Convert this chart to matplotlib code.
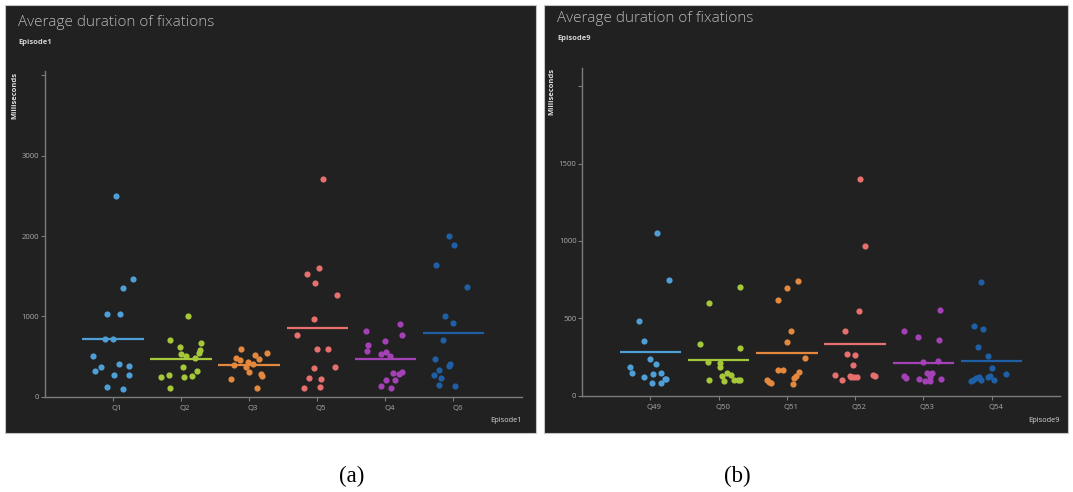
import matplotlib
matplotlib.use('Agg')
import matplotlib.pyplot as plt
from matplotlib.patches import Rectangle
from matplotlib.transforms import ScaledTranslation

plt.rcParams['font.family'] = ['Open Sans', 'DejaVu Sans']

W, H = 1073, 492

# per-question colours, same order in both episodes
q_colors = ['#4d9fd6', '#a5c83a', '#e3883d', '#e7706f', '#a541b6', '#1f5fa5']

# ---- Episode 1 ----
ep1_questions = ['Q1', 'Q2', 'Q3', 'Q5', 'Q4', 'Q6']
ep1_ms = [
    [2500, 1469, 1357, 1029, 1025, 718, 722, 510, 373, 324, 402, 382, 270, 266, 120, 91],
    [1000, 701, 614, 668, 527, 510, 581, 539, 481, 365, 315, 249, 274, 249, 253, 112],
    [594, 544, 482, 453, 523, 469, 391, 428, 403, 374, 311, 286, 253, 224, 105],
    [2710, 1598, 1531, 1411, 1270, 971, 772, 589, 598, 357, 369, 232, 224, 112, 124],
    [822, 900, 768, 643, 689, 564, 527, 560, 506, 299, 311, 282, 203, 207, 137, 108],
    [2005, 1893, 1635, 1369, 1008, 913, 705, 469, 332, 402, 382, 270, 237, 145, 137],
]
ep1_jitter = [
    [0.05, 0.29, 0.15, -0.08, 0.11, -0.11, 0.0, -0.29, -0.17, -0.26, 0.09, 0.24, 0.02, 0.24, -0.09, 0.15],
    [0.11, -0.16, -0.01, 0.29, 0.0, 0.07, 0.28, 0.27, 0.20, 0.03, 0.23, -0.30, -0.18, 0.05, 0.16, -0.16],
    [-0.12, 0.27, -0.19, -0.13, 0.08, 0.15, -0.22, -0.01, 0.06, -0.05, 0.0, 0.17, 0.19, -0.27, 0.12],
    [0.08, 0.02, -0.15, -0.03, 0.29, -0.05, -0.29, 0.0, 0.16, -0.04, 0.26, -0.12, 0.05, -0.19, 0.04],
    [-0.29, 0.22, 0.24, -0.26, -0.01, -0.27, -0.07, 0.01, 0.07, 0.12, 0.24, 0.20, 0.01, 0.14, -0.07, 0.09],
    [-0.06, 0.01, -0.25, 0.20, -0.13, 0.0, -0.15, -0.27, -0.21, -0.05, -0.07, -0.28, -0.18, -0.21, 0.02],
]
ep1_yticks = [0, 1000, 2000, 3000, 4000]
ep1_yticklabels = ['0', '1000', '2000', '3000', '']

# ---- Episode 9 ----
ep9_questions = ['Q49', 'Q50', 'Q51', 'Q52', 'Q53', 'Q54']
ep9_ms = [
    [1054, 750, 485, 351, 239, 205, 183, 147, 123, 142, 144, 80, 80, 106, 110],
    [705, 597, 336, 306, 216, 213, 188, 147, 131, 125, 99, 95, 103, 103, 103],
    [744, 694, 616, 416, 349, 246, 164, 166, 153, 127, 116, 101, 80, 88, 73],
    [1403, 965, 545, 420, 267, 261, 200, 134, 103, 121, 118, 123, 136, 125, 128],
    [554, 418, 381, 362, 218, 222, 127, 116, 108, 144, 144, 119, 95, 97, 108],
    [735, 453, 429, 317, 254, 181, 138, 101, 112, 123, 101, 123, 129, 101, 93],
]
ep9_jitter = [
    [0.10, 0.28, -0.17, -0.09, 0.0, 0.08, -0.29, -0.27, -0.09, 0.04, 0.15, 0.02, 0.15, 0.23, 0.22],
    [0.32, -0.14, -0.27, 0.32, -0.16, 0.02, 0.02, 0.13, 0.18, 0.05, -0.14, 0.08, 0.23, 0.29, 0.32],
    [0.17, 0.0, -0.13, 0.06, 0.0, 0.27, -0.13, -0.05, 0.18, 0.14, 0.11, -0.29, -0.23, -0.26, 0.09],
    [0.07, 0.15, 0.05, -0.15, -0.12, 0.0, -0.03, -0.29, -0.19, -0.06, -0.02, 0.03, 0.26, 0.29, -0.08],
    [0.25, -0.29, -0.08, 0.23, -0.01, 0.21, -0.28, -0.26, -0.07, 0.05, 0.12, 0.09, 0.02, 0.09, 0.26],
    [-0.15, -0.26, -0.13, -0.20, -0.05, 0.0, 0.21, -0.28, -0.23, -0.19, -0.15, -0.06, -0.03, 0.04, -0.31],
]
ep9_yticks = [0, 500, 1000, 1500, 2000]
ep9_yticklabels = ['0', '500', '1000', '1500', '']

BG = '#212121'
AXIS = '#7c7c7c'
TICKTXT = '#a8a8a8'


def fx(px):
    return px / W


def fy(py):
    return 1 - py / H


def draw_panel(fig, box, plot, questions, values, jitter, ymax, yticks, yticklabels,
               episode, title_y, sub_y, ylab_x, ylab_y):
    x0, y0, x1, y1 = box
    fig.patches.append(Rectangle((fx(x0), fy(y1)), fx(x1 - x0), (y1 - y0) / H,
                                 transform=fig.transFigure, facecolor=BG,
                                 edgecolor='#c4c4c4', linewidth=0.8, zorder=-5))
    px0, py0, px1, py1 = plot
    ax = fig.add_axes([fx(px0), fy(py1), fx(px1 - px0), (py1 - py0) / H])
    ax.set_facecolor('none')
    ax.set_zorder(2)

    for i, (vals, jit) in enumerate(zip(values, jitter)):
        xs = [i + j for j in jit]
        ax.scatter(xs, vals, s=20, color=q_colors[i], linewidths=0, zorder=3)
        mean = sum(vals) / len(vals)
        ax.hlines(mean, i - 0.45, i + 0.45, color=q_colors[i], linewidth=1.6, zorder=2)

    ax.set_xlim(-1, 6)
    ax.set_ylim(0, ymax)
    ax.set_xticks(range(len(questions)))
    ax.set_xticklabels(questions)
    ax.set_yticks(yticks)
    ax.set_yticklabels(yticklabels)
    for s in ['top', 'right']:
        ax.spines[s].set_visible(False)
    for s in ['left', 'bottom']:
        ax.spines[s].set_color(AXIS)
        ax.spines[s].set_linewidth(1.0)
    ax.tick_params(axis='both', colors=AXIS, labelcolor=TICKTXT, labelsize=5.6,
                   length=2.8, width=0.8)
    ax.tick_params(axis='x', pad=3.5)
    ax.tick_params(axis='y', pad=1.2)
    shift = ScaledTranslation(4 / 100, 0, fig.dpi_scale_trans)
    for lab in ax.get_xticklabels():
        lab.set_transform(lab.get_transform() + shift)

    fig.text(fx(x0 + 13), fy(title_y), 'Average duration of fixations', color='#b8b8b8',
             fontsize=11, fontweight='light', ha='left', va='center')
    fig.text(fx(x0 + 13), fy(sub_y), episode, color='#d4d4d4', fontsize=5.4,
             fontweight='bold', ha='left', va='center')
    fig.text(fx(ylab_x), fy(ylab_y), 'Milliseconds', color='#e0e0e0', fontsize=5.4,
             fontweight='bold', rotation=90, ha='center', va='top')
    fig.text(fx(px1), fy(420), episode, color='#d8d8d8', fontsize=5.4,
             ha='right', va='center')
    return ax


fig = plt.figure(figsize=(W / 100, H / 100), dpi=100)
fig.patch.set_facecolor('white')

draw_panel(fig, (5, 5, 536, 433), (44.8, 71, 521.5, 396.7), ep1_questions, ep1_ms,
           ep1_jitter, 4056, ep1_yticks, ep1_yticklabels, 'Episode1', 22, 42, 14.5, 72)
draw_panel(fig, (544, 5, 1068, 433), (582, 68.3, 1060, 395.7), ep9_questions, ep9_ms,
           ep9_jitter, 2116, ep9_yticks, ep9_yticklabels, 'Episode9', 19, 38, 551.5, 68)

fig.text(fx(352), fy(476), '(a)', family='Liberation Serif', fontsize=16.5, ha='center', va='center')
fig.text(fx(737), fy(476), '(b)', family='Liberation Serif', fontsize=16.5, ha='center', va='center')

fig.savefig('out.png', dpi=100, facecolor='white')
